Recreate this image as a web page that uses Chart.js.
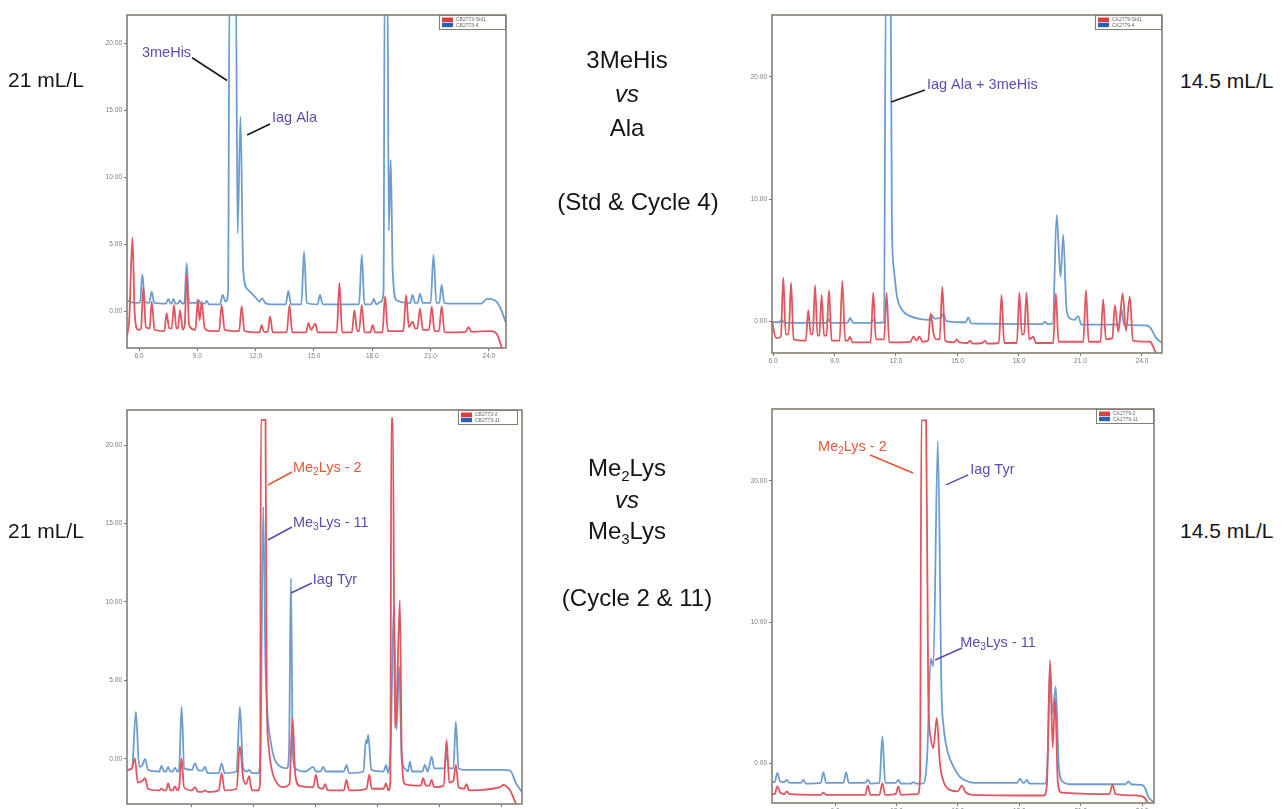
<!DOCTYPE html>
<html><head><meta charset="utf-8">
<script src="https://cdn.jsdelivr.net/npm/chart.js@4.4.1/dist/chart.umd.min.js"></script>
<style>
body{margin:0;background:#fff;width:1283px;height:809px;overflow:hidden;position:relative;font-family:"Liberation Sans",Arial,sans-serif;}
canvas{position:absolute;}
.c{position:absolute;width:300px;text-align:center;height:30px;line-height:30px;font-size:24px;color:#151515;white-space:nowrap;}
.s{position:absolute;height:30px;line-height:30px;font-size:21px;color:#151515;white-space:nowrap;}
.sub{font-size:15px;position:relative;top:5px;}
</style></head><body>
<canvas id="tl"></canvas><canvas id="tr"></canvas><canvas id="bl"></canvas><canvas id="br"></canvas>

<div class="s" style="left:8px;top:65px">21 mL/L</div>
<div class="s" style="left:8px;top:516px">21 mL/L</div>
<div class="s" style="left:1180px;top:66px">14.5 mL/L</div>
<div class="s" style="left:1180px;top:516px">14.5 mL/L</div>

<div class="c" style="left:477px;top:45px">3MeHis</div>
<div class="c" style="left:477px;top:79px;font-style:italic">vs</div>
<div class="c" style="left:477px;top:113px">Ala</div>
<div class="c" style="left:488px;top:187px">(Std &amp; Cycle 4)</div>
<div class="c" style="left:477px;top:453px">Me<span class="sub">2</span>Lys</div>
<div class="c" style="left:477px;top:485px;font-style:italic">vs</div>
<div class="c" style="left:477px;top:516px">Me<span class="sub">3</span>Lys</div>
<div class="c" style="left:487px;top:583px">(Cycle 2 &amp; 11)</div>

<script>
// ---------- DATA (retention time, signal) ----------
const xTicksTop = [6, 9, 12, 15, 18, 21, 24];
const xTicksBottom = [9, 12, 15, 18, 21, 24];
const yTicksTL = [0, 5, 10, 15, 20];
const yTicksTR = [0, 10, 20];
const yTicksBL = [0, 5, 10, 15, 20];
const yTicksBR = [0, 10, 20];

const legendTL = ["CB2773-Std1", "CB2773-4"];
const legendTR = ["CA2779-Std1", "CA2779-4"];
const legendBL = ["CB2773-2", "CB2773-11"];
const legendBR = ["CA2779-2", "CA2779-11"];

// Top-left: CB2773 standard (red) and cycle 4 (blue)
const tlStd = [[5.38,-1.9],[5.5,-0.5],[5.66,5.5],[5.78,-0.3],[5.95,-1.4],[6.1,-1.3],[6.22,1.77],[6.35,-1.2],[6.55,-1.3],[6.65,0.7],[6.8,-1.4],[7.3,-1.5],[7.42,-0.17],[7.55,-1.3],[7.68,-1.3],[7.8,0.45],[7.92,-1.3],[8.0,-1.3],[8.11,0.07],[8.25,-1.4],[8.35,-1.0],[8.45,2.7],[8.58,-1.1],[8.9,-1.4],[9.02,0.8],[9.12,-0.7],[9.22,0.7],[9.38,-1.3],[9.7,-1.5],[10.12,-1.5],[10.25,0.45],[10.4,-1.4],[11.15,-1.5],[11.28,0.37],[11.42,-1.5],[12.2,-1.6],[12.31,-1.05],[12.42,-1.55],[12.62,-1.55],[12.74,-0.4],[12.88,-1.6],[13.6,-1.6],[13.74,0.45],[13.88,-1.6],[14.6,-1.6],[14.71,-0.9],[14.85,-1.4],[15.06,-0.95],[15.2,-1.6],[16.17,-1.6],[16.31,2.1],[16.45,-1.6],[16.95,-1.6],[17.08,0.07],[17.22,-1.5],[17.32,-1.5],[17.46,0.45],[17.6,-1.6],[17.9,-1.6],[18.02,-1.05],[18.15,-1.6],[18.52,-1.6],[18.66,1.1],[18.8,-1.5],[19.6,-1.5],[19.74,1.2],[19.88,-1.2],[20.08,-0.8],[20.2,-1.3],[20.32,-1.3],[20.46,0.2],[20.6,-1.4],[20.92,-1.4],[21.06,0.32],[21.2,-1.5],[21.43,-1.5],[21.57,0.37],[21.72,-1.6],[22.8,-1.55],[22.95,-1.2],[23.1,-1.55],[24.1,-1.5],[24.4,-1.7],[24.7,-2.9]];
const tlCycle4 = [[5.38,0.8],[5.6,0.65],[5.95,0.6],[6.05,0.65],[6.17,2.76],[6.3,0.7],[6.52,0.6],[6.65,1.44],[6.78,0.6],[7.38,0.55],[7.51,0.9],[7.63,0.55],[7.68,0.55],[7.77,0.9],[7.88,0.55],[8.0,0.55],[8.11,0.8],[8.22,0.55],[8.33,0.6],[8.45,3.56],[8.58,0.6],[8.93,0.6],[9.05,0.85],[9.17,0.55],[9.37,0.55],[9.48,0.75],[9.6,0.5],[10.17,0.5],[10.3,1.2],[10.45,0.7],[10.58,1.4],[10.66,25],[10.98,25],[11.07,5.8],[11.22,14.5],[11.36,3.0],[11.6,1.6],[12.0,1.0],[12.2,0.7],[12.33,0.95],[12.5,0.6],[12.75,0.5],[13.55,0.5],[13.68,1.5],[13.82,0.5],[14.35,0.5],[14.49,4.43],[14.63,0.6],[15.18,0.5],[15.31,1.2],[15.45,0.5],[17.32,0.5],[17.46,4.18],[17.6,0.5],[17.95,0.5],[18.08,0.9],[18.2,0.5],[18.45,0.7],[18.58,1.5],[18.64,25],[18.78,25],[18.85,6.0],[18.95,11.3],[19.05,3.0],[19.25,0.8],[19.95,0.6],[20.07,1.2],[20.2,0.6],[20.33,0.6],[20.46,1.27],[20.6,0.6],[21.0,0.6],[21.15,4.18],[21.3,0.6],[21.45,0.6],[21.57,1.94],[21.7,0.6],[22.0,0.55],[23.6,0.55],[23.9,0.9],[24.3,0.8],[24.6,0.2],[24.88,-0.9]];

// Top-right: CA2779 standard (red) and cycle 4 (blue)
const trStd = [[5.95,0.0],[6.15,-1.4],[6.38,-1.3],[6.5,3.58],[6.62,-1.1],[6.76,-1.1],[6.88,3.14],[7.0,-1.5],[7.6,-1.6],[7.72,0.9],[7.84,-1.1],[7.94,-1.1],[8.05,2.95],[8.17,-1.2],[8.26,-1.2],[8.37,2.13],[8.49,-1.2],[8.61,-1.2],[8.73,2.54],[8.86,-1.6],[9.25,-1.6],[9.38,3.28],[9.52,-1.6],[9.65,-1.6],[9.76,-1.28],[9.88,-1.75],[10.76,-1.75],[10.89,2.32],[11.02,-1.5],[11.42,-1.5],[11.54,2.32],[11.67,-1.75],[12.7,-1.7],[12.85,-1.28],[13.0,-1.6],[13.14,-1.28],[13.3,-1.7],[13.57,-1.6],[13.69,0.63],[13.82,-0.9],[13.95,-1.5],[14.13,-1.5],[14.26,2.81],[14.4,-1.65],[14.85,-1.75],[14.96,-1.5],[15.08,-1.75],[15.5,-1.8],[15.61,-1.6],[15.73,-1.85],[16.22,-1.8],[16.34,-1.6],[16.46,-1.85],[17.02,-1.8],[17.15,2.13],[17.28,-1.8],[17.9,-1.8],[18.02,2.32],[18.14,-1.1],[18.25,-1.1],[18.37,2.32],[18.5,-1.5],[18.6,-1.4],[18.7,-1.28],[18.82,-1.8],[19.67,-1.8],[19.8,2.27],[19.93,-1.7],[21.14,-1.7],[21.27,2.54],[21.4,-1.7],[21.98,-1.7],[22.11,1.78],[22.24,-1.5],[22.56,-1.4],[22.68,1.31],[22.85,-0.9],[23.06,2.27],[23.22,-0.8],[23.41,2.0],[23.56,-1.6],[24.4,-1.7],[24.6,-2.3],[24.8,-3.1],[24.98,-3.5]];
const trCycle4 = [[5.95,-0.1],[6.3,-0.1],[6.42,0.1],[6.55,-0.15],[8.57,-0.15],[8.7,0.15],[8.83,-0.15],[9.63,-0.15],[9.76,0.25],[9.9,-0.15],[10.77,-0.15],[10.89,0.1],[11.0,-0.15],[11.42,-0.1],[11.5,27],[11.74,27],[11.8,8.0],[11.9,4.2],[12.05,2.0],[12.3,0.9],[12.7,0.4],[13.2,0.15],[13.6,0.1],[13.74,0.5],[13.88,0.2],[14.18,0.25],[14.31,0.6],[14.45,0.0],[15.4,-0.1],[15.53,0.3],[15.67,-0.2],[19.15,-0.25],[19.27,-0.05],[19.4,-0.25],[19.65,-0.2],[19.84,8.7],[20.03,3.6],[20.16,7.05],[20.32,1.0],[20.5,0.2],[20.7,0.1],[20.89,0.4],[21.05,-0.3],[22.88,-0.3],[23.0,1.0],[23.12,-0.3],[24.2,-0.35],[24.39,-0.5],[24.7,-1.4],[24.98,-1.8]];

// Bottom-left: CB2773 cycle 2 (red) and cycle 11 (blue)
const blCycle2 = [[5.86,-0.7],[6.1,-0.6],[6.24,0.04],[6.38,-1.5],[6.6,-1.4],[6.73,-1.23],[6.88,-1.9],[7.42,-2.0],[7.53,-1.9],[7.65,-2.0],[7.75,-2.0],[7.85,-1.55],[7.96,-2.0],[8.07,-2.0],[8.18,-1.75],[8.3,-2.0],[8.38,-1.8],[8.5,0.04],[8.62,-1.8],[9.0,-2.0],[9.15,-1.8],[9.3,-2.1],[9.5,-2.1],[9.63,-2.0],[9.76,-2.1],[10.3,-2.0],[10.44,-0.9],[10.58,-2.0],[11.16,-1.9],[11.32,0.8],[11.48,-1.2],[11.62,-1.6],[11.77,-1.1],[11.9,-2.0],[12.2,-2.0],[12.3,-1.5],[12.34,21.6],[12.56,21.6],[12.62,4.0],[12.7,1.0],[12.85,-0.6],[13.05,-1.4],[13.4,-1.8],[13.72,-1.6],[13.87,2.6],[14.0,-1.0],[14.2,-1.7],[14.87,-1.8],[15.0,-1.0],[15.12,-1.8],[15.33,-1.9],[15.45,-1.6],[15.57,-2.0],[16.35,-2.0],[16.48,-1.34],[16.6,-2.0],[17.45,-1.9],[17.58,-1.0],[17.7,-1.9],[18.27,-1.9],[18.39,-1.55],[18.5,-2.0],[18.6,-1.5],[18.65,21.7],[18.72,21.7],[18.82,2.0],[18.9,3.0],[19.06,10.1],[19.15,0.5],[19.3,-1.6],[20.07,-1.7],[20.19,-1.23],[20.32,-1.7],[20.48,-1.7],[20.6,-1.34],[20.72,-1.8],[21.18,-1.7],[21.32,1.21],[21.45,-1.5],[21.65,-1.4],[21.77,-0.38],[21.9,-1.8],[22.17,-1.9],[22.29,-1.6],[22.4,-2.0],[23.9,-1.8],[24.06,-1.66],[24.39,-2.0],[24.7,-2.9],[24.97,-3.3]];
const blCycle11 = [[5.86,-0.7],[6.1,-0.6],[6.29,3.0],[6.45,-0.5],[6.6,-0.4],[6.73,0.0],[6.88,-0.7],[7.42,-0.8],[7.53,-0.45],[7.65,-0.8],[7.75,-0.8],[7.85,-0.5],[7.96,-0.8],[8.07,-0.8],[8.18,-0.55],[8.3,-0.8],[8.38,-0.7],[8.5,3.33],[8.63,-0.6],[9.0,-0.7],[9.15,-0.28],[9.3,-0.7],[9.5,-0.75],[9.63,-0.5],[9.76,-0.9],[10.3,-0.9],[10.44,-0.28],[10.58,-0.9],[11.16,-0.8],[11.32,3.33],[11.48,-0.6],[11.65,-0.8],[11.77,-0.7],[11.9,-0.9],[12.2,-0.9],[12.32,0.5],[12.45,16.07],[12.56,6.0],[12.65,3.0],[12.8,1.2],[13.0,0.0],[13.3,-0.5],[13.6,-0.6],[13.7,0.5],[13.79,11.5],[13.88,0.5],[14.0,-0.6],[14.5,-0.8],[14.87,-0.5],[15.0,-0.8],[15.22,-0.8],[15.35,-0.5],[15.48,-0.8],[16.35,-0.8],[16.48,-0.4],[16.6,-0.9],[17.3,-0.8],[17.42,1.2],[17.47,1.0],[17.53,1.53],[17.68,-0.7],[18.27,-0.8],[18.39,-0.4],[18.5,-0.9],[18.62,1.0],[18.77,9.8],[18.9,1.85],[19.03,5.9],[19.15,0.0],[19.3,-0.6],[19.45,-0.8],[19.55,-0.17],[19.65,-0.8],[20.15,-0.8],[20.27,-0.38],[20.4,-0.8],[20.48,-0.5],[20.6,0.15],[20.72,-0.6],[21.2,-0.6],[21.32,0.25],[21.45,-0.6],[21.65,-0.6],[21.77,2.38],[21.9,-0.6],[22.2,-0.7],[24.0,-0.7],[24.39,-0.75],[24.7,-1.6],[24.97,-2.1]];

// Bottom-right: CA2779 cycle 2 (red) and cycle 11 (blue)
const brCycle2 = [[5.92,-2.2],[6.05,-2.2],[6.18,-1.65],[6.32,-2.1],[6.52,-2.2],[6.64,-2.0],[6.77,-2.2],[8.3,-2.25],[8.43,-2.1],[8.56,-2.25],[10.47,-2.25],[10.6,-1.6],[10.73,-2.25],[11.17,-2.25],[11.31,-1.42],[11.45,-2.25],[11.96,-2.2],[12.09,-1.65],[12.22,-2.25],[13.05,-2.2],[13.15,-1.0],[13.22,24.3],[13.45,24.3],[13.55,5.0],[13.67,1.8],[13.8,1.06],[13.97,3.2],[14.12,0.0],[14.3,-1.3],[14.6,-1.9],[15.0,-2.0],[15.19,-1.6],[15.4,-2.1],[15.76,-2.25],[19.2,-2.3],[19.35,-1.5],[19.5,7.3],[19.63,1.1],[19.75,4.6],[19.88,-1.3],[20.05,-2.1],[22.4,-2.2],[22.55,-1.53],[22.7,-2.2],[23.8,-2.3],[24.15,-2.5],[24.4,-3.3],[24.58,-3.5]];
const brCycle11 = [[5.92,-1.35],[6.05,-1.35],[6.18,-0.7],[6.32,-1.3],[6.52,-1.35],[6.64,-1.2],[6.77,-1.4],[7.33,-1.4],[7.45,-1.2],[7.58,-1.45],[8.3,-1.4],[8.43,-0.66],[8.56,-1.4],[9.41,-1.4],[9.54,-0.66],[9.67,-1.4],[10.47,-1.4],[10.6,-1.2],[10.73,-1.45],[11.17,-1.4],[11.31,1.9],[11.45,-1.4],[11.96,-1.4],[12.09,-1.2],[12.22,-1.45],[12.7,-1.45],[12.83,-1.35],[12.96,-1.45],[13.3,-1.45],[13.5,0.5],[13.67,7.4],[13.8,6.85],[14.02,22.8],[14.2,5.0],[14.3,2.6],[14.5,0.8],[14.8,-0.3],[15.11,-1.0],[15.4,-1.25],[15.8,-1.4],[17.9,-1.4],[18.04,-1.1],[18.18,-1.4],[18.24,-1.4],[18.36,-1.2],[18.5,-1.45],[19.3,-1.45],[19.4,1.0],[19.5,6.85],[19.62,3.5],[19.78,5.43],[19.92,0.0],[20.1,-1.3],[20.5,-1.5],[23.2,-1.5],[23.33,-1.3],[23.46,-1.5],[24.0,-1.55],[24.15,-1.8],[24.31,-2.4],[24.58,-2.8]];

// ---------- STYLE / LAYOUT ----------
const RED = '#df5660', BLUE = '#6d9dce', PURPLE = '#574fb2', ORANGE = '#e6583a', INK = '#1a1a1a';
const FONT = '"Liberation Sans", Arial, sans-serif';

function drawRich(ctx, parts, x, y, color) {
  ctx.fillStyle = color; ctx.textBaseline = 'middle'; ctx.textAlign = 'left';
  let cx = x;
  parts.forEach(p => {
    ctx.font = (p.sub ? '10px ' : '14.5px ') + FONT;
    ctx.fillText(p.t, cx, y + (p.sub ? 4 : 0));
    cx += ctx.measureText(p.t).width;
  });
}

function makePanel(id, box, xr, yr, xt, yt, red, blue, legend, lgW, lgInset, notes) {
  const cv = document.getElementById(id);
  const L = 45, T = 10, R = 15, B = 22;
  cv.width = box.r - box.l + L + R; cv.height = box.b - box.t + T + B;
  cv.style.width = cv.width + 'px'; cv.style.height = cv.height + 'px';
  cv.style.left = (box.l - L) + 'px'; cv.style.top = (box.t - T) + 'px';
  const deco = {
    id: 'deco' + id,
    afterDatasetsDraw(chart) {
      const { ctx, chartArea: a, scales: { x, y } } = chart;
      ctx.save();
      ctx.strokeStyle = '#857d72'; ctx.lineWidth = 1.6;
      ctx.strokeRect(a.left, a.top, a.right - a.left, a.bottom - a.top);
      const lh = 15, lx = a.right - lgW - lgInset, ly = a.top;
      ctx.fillStyle = '#fff'; ctx.fillRect(lx, ly, lgW, lh);
      ctx.strokeStyle = '#857d72'; ctx.lineWidth = 1;
      ctx.strokeRect(lx + 0.5, ly + 0.5, lgW - 1, lh - 1);
      ['#e03c3c', '#2f5fb0'].forEach((c, i) => {
        ctx.fillStyle = c; ctx.fillRect(lx + 3, ly + 2.5 + i * 5.2, 11, 4.5);
        ctx.fillStyle = '#666'; ctx.font = '5px ' + FONT; ctx.textBaseline = 'middle'; ctx.textAlign = 'left';
        ctx.fillText(legend[i], lx + 17, ly + 5 + i * 5.2);
      });
      notes.forEach(n => {
        ctx.strokeStyle = n.lc; ctx.lineWidth = 1.6;
        ctx.beginPath();
        ctx.moveTo(x.getPixelForValue(n.line[0]), y.getPixelForValue(n.line[1]));
        ctx.lineTo(x.getPixelForValue(n.line[2]), y.getPixelForValue(n.line[3]));
        ctx.stroke();
        drawRich(ctx, n.parts, x.getPixelForValue(n.at[0]), y.getPixelForValue(n.at[1]), n.c);
      });
      ctx.restore();
    }
  };
  const tickFont = { size: 6.5, family: FONT };
  new Chart(cv, {
    type: 'line',
    data: { datasets: [
      { label: legend[0], data: red.map(p => ({ x: p[0], y: p[1] })), borderColor: RED, borderWidth: 1.8, pointRadius: 0, cubicInterpolationMode: 'monotone', fill: false },
      { label: legend[1], data: blue.map(p => ({ x: p[0], y: p[1] })), borderColor: BLUE, borderWidth: 1.8, pointRadius: 0, cubicInterpolationMode: 'monotone', fill: false }
    ] },
    options: {
      responsive: false, animation: false, events: [],
      layout: { padding: { top: T, right: R, left: 0, bottom: 0 } },
      plugins: { legend: { display: false }, tooltip: { enabled: false } },
      scales: {
        x: { type: 'linear', min: xr[0], max: xr[1],
          afterFit(a) { a.height = B; },
          afterBuildTicks(a) { a.ticks = xt.map(v => ({ value: v })); },
          ticks: { callback: v => Number(v).toFixed(1), font: tickFont, color: '#7a7a7a', padding: 1, maxRotation: 0, autoSkip: false },
          grid: { drawOnChartArea: false, drawTicks: true, tickLength: 3, color: '#777' }, border: { display: false } },
        y: { type: 'linear', min: yr[0], max: yr[1],
          afterFit(a) { a.width = L; },
          afterBuildTicks(a) { a.ticks = yt.map(v => ({ value: v })); },
          ticks: { callback: v => Number(v).toFixed(2), font: tickFont, color: '#7a7a7a', padding: 2, autoSkip: false },
          grid: { drawOnChartArea: false, drawTicks: true, tickLength: 3, color: '#777' }, border: { display: false } }
      }
    },
    plugins: [deco]
  });
}

makePanel('tl', { l: 127, t: 15, r: 506, b: 348 }, [5.38, 24.88], [-2.76, 22.09], xTicksTop, yTicksTL, tlStd, tlCycle4, legendTL, 67, 0, [
  { parts: [{ t: '3meHis' }], at: [6.15, 19.25], c: PURPLE, line: [8.73, 18.9, 10.53, 17.2], lc: INK },
  { parts: [{ t: 'Iag Ala' }], at: [12.84, 14.4], c: PURPLE, line: [12.74, 13.96, 11.56, 13.13], lc: INK }
]);
makePanel('tr', { l: 772, t: 15, r: 1162, b: 353 }, [5.95, 24.98], [-2.62, 25.08], xTicksTop, yTicksTR, trStd, trCycle4, legendTR, 67, 0, [
  { parts: [{ t: 'Iag Ala + 3meHis' }], at: [13.51, 19.34], c: PURPLE, line: [13.41, 18.93, 11.76, 17.95], lc: INK }
]);
makePanel('bl', { l: 127, t: 410, r: 522, b: 804 }, [5.86, 24.97], [-2.87, 22.23], xTicksBottom, yTicksBL, blCycle2, blCycle11, legendBL, 60, 4, [
  { parts: [{ t: 'Me' }, { t: '2', sub: 1 }, { t: 'Lys - 2' }], at: [13.89, 18.53], c: ORANGE, line: [13.84, 18.28, 12.68, 17.45], lc: ORANGE },
  { parts: [{ t: 'Me' }, { t: '3', sub: 1 }, { t: 'Lys - 11' }], at: [13.89, 15.03], c: PURPLE, line: [13.84, 14.78, 12.68, 13.95], lc: PURPLE },
  { parts: [{ t: 'Iag Tyr' }], at: [14.85, 11.4], c: PURPLE, line: [14.81, 11.21, 13.79, 10.57], lc: PURPLE }
]);
makePanel('br', { l: 772, t: 409, r: 1154, b: 803 }, [5.92, 24.58], [-2.83, 25.1], xTicksBottom, yTicksBR, brCycle2, brCycle11, legendBR, 58, 0, [
  { parts: [{ t: 'Me' }, { t: '2', sub: 1 }, { t: 'Lys - 2' }], at: [8.17, 22.4], c: ORANGE, line: [10.71, 21.84, 12.81, 20.57], lc: ORANGE },
  { parts: [{ t: 'Iag Tyr' }], at: [15.6, 20.78], c: PURPLE, line: [15.5, 20.43, 14.42, 19.72], lc: PURPLE },
  { parts: [{ t: 'Me' }, { t: '3', sub: 1 }, { t: 'Lys - 11' }], at: [15.11, 8.51], c: PURPLE, line: [15.2, 8.16, 13.89, 7.3], lc: PURPLE }
]);
</script>
</body></html>
